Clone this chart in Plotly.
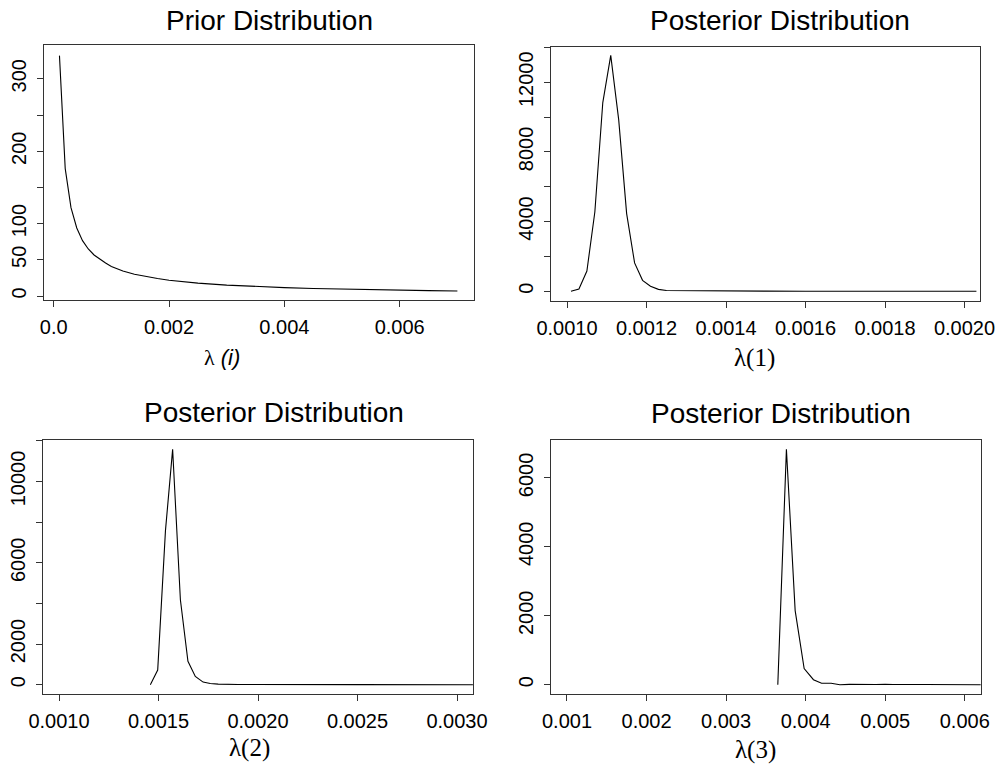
import plotly.graph_objects as go

# ---------------- data ----------------
prior_x = [0.0001, 0.0002, 0.0003, 0.0004, 0.0005, 0.0006, 0.0007, 0.0008, 0.0009, 0.0010,
           0.0012, 0.0014, 0.0016, 0.0018, 0.0020, 0.0025, 0.0030, 0.0035, 0.0040, 0.0045,
           0.0050, 0.0055, 0.0060, 0.0065, 0.0070]
prior_y = [332, 176, 122, 94, 76.5, 65, 56.7, 50.5, 45.5, 40.8,
           34.6, 30.1, 26.8, 24.1, 21.7, 17.8, 15.0, 13.1, 11.6, 10.4,
           9.5, 8.7, 8.0, 7.5, 7.0]

post1_x = [0.00101, 0.00103, 0.00105, 0.00107, 0.00109, 0.00111, 0.00113, 0.00115, 0.00117,
           0.00119, 0.00121, 0.00123, 0.00125, 0.00127, 0.00131, 0.00135, 0.00140, 0.00150,
           0.00160, 0.00180, 0.00203]
post1_y = [0, 130, 1160, 4550, 10830, 13540, 9850, 4460, 1630,
           630, 290, 110, 45, 40, 60, 45, 30, 10,
           5, 3, 0]

post2_x = [0.001459, 0.001496, 0.001535, 0.001571, 0.001610, 0.001648, 0.001685, 0.001724,
           0.00176, 0.00180, 0.00190, 0.00200, 0.00220, 0.00250, 0.00308]
post2_y = [0, 720, 7580, 11580, 4180, 1150, 410, 130,
           60, 30, 10, 5, 5, 2, 0]

post3_x = [0.00365, 0.003758, 0.003868, 0.003981, 0.004098, 0.00420, 0.00432, 0.00443,
           0.00455, 0.00466, 0.00477, 0.00488, 0.00500, 0.00510, 0.00550, 0.00620]
post3_y = [0, 6830, 2150, 470, 145, 40, 40, 0,
           10, 5, 20, 5, 15, 5, 5, 0]

titles = ["Prior Distribution", "Posterior Distribution", "Posterior Distribution", "Posterior Distribution"]

# tick definitions
p1_xt = [0.0, 0.002, 0.004, 0.006]
p1_xl = ["0.0", "0.002", "0.004", "0.006"]
p1_yt = [0, 50, 100, 150, 200, 250, 300]
p1_yl = ["0", "50", "100", "", "200", "", "300"]

p2_xt = [0.0010, 0.0012, 0.0014, 0.0016, 0.0018, 0.0020]
p2_xl = ["0.0010", "0.0012", "0.0014", "0.0016", "0.0018", "0.0020"]
p2_yt = [0, 2000, 4000, 6000, 8000, 10000, 12000, 14000]
p2_yl = ["0", "", "4000", "", "8000", "", "12000", ""]

p3_xt = [0.0010, 0.0015, 0.0020, 0.0025, 0.0030]
p3_xl = ["0.0010", "0.0015", "0.0020", "0.0025", "0.0030"]
p3_yt = [0, 2000, 4000, 6000, 8000, 10000, 12000]
p3_yl = ["0", "2000", "", "6000", "", "10000", ""]

p4_xt = [0.001, 0.002, 0.003, 0.004, 0.005, 0.006]
p4_xl = ["0.001", "0.002", "0.003", "0.004", "0.005", "0.006"]
p4_yt = [0, 2000, 4000, 6000]
p4_yl = ["0", "2000", "4000", "6000"]

W, H = 1007, 771

fig = go.Figure()
series = [(prior_x, prior_y), (post1_x, post1_y), (post2_x, post2_y), (post3_x, post3_y)]
for i, (xs, ys) in enumerate(series):
    sfx = "" if i == 0 else str(i + 1)
    fig.add_trace(go.Scatter(x=xs, y=ys, mode="lines",
                             line=dict(color="black", width=1.1),
                             xaxis="x" + sfx, yaxis="y" + sfx, showlegend=False,
                             hoverinfo="skip"))

# panel boxes in pixels: (left, right, top, bottom)
boxes = [(44, 474, 45, 300), (551, 980, 47, 301), (43, 473, 440, 694), (551, 981, 440, 694)]
xranges = [[-0.000168, 0.007288], [0.0009597, 0.002039], [0.0009196, 0.0030804], [0.000799, 0.006204]]
yranges = [[-5.5, 346.7], [-557, 14020], [-457, 12039], [-270, 7101]]
ticks = [(p1_xt, p1_xl, p1_yt, p1_yl), (p2_xt, p2_xl, p2_yt, p2_yl),
         (p3_xt, p3_xl, p3_yt, p3_yl), (p4_xt, p4_xl, p4_yt, p4_yl)]

font_sans = "Liberation Sans, Arial, sans-serif"
layout = dict(width=W, height=H, autosize=False,
              margin=dict(l=0, r=0, t=0, b=0, pad=0, autoexpand=False),
              paper_bgcolor="white", plot_bgcolor="white", showlegend=False)

for i in range(4):
    l, r, t, b = boxes[i]
    sfx = "" if i == 0 else str(i + 1)
    xt, xl, yt, yl = ticks[i]
    common = dict(showline=True, mirror=True, linecolor="#333333", linewidth=1,
                  ticks="outside", ticklen=6, tickwidth=1, tickcolor="#333333",
                  showgrid=False, zeroline=False, automargin=False,
                  tickfont=dict(family=font_sans, size=20, color="black"))
    layout["xaxis" + sfx] = dict(domain=[l / W, r / W], anchor="y" + sfx,
                                 range=xranges[i], tickvals=xt, ticktext=xl,
                                 ticklabelstandoff=3, **common)
    layout["yaxis" + sfx] = dict(domain=[1 - b / H, 1 - t / H], anchor="x" + sfx,
                                 range=yranges[i], tickvals=yt, ticktext=yl,
                                 tickangle=-90, ticklabelstandoff=3, **common)

# titles and axis labels (pixel positions measured on the reference)
title_pos = [(269.5, 20), (780, 20), (274.3, 412.5), (781.3, 413)]
anns = []
for (cx, cy), txt in zip(title_pos, titles):
    anns.append(dict(x=cx / W, y=1 - cy / H, xref="paper", yref="paper",
                     text=txt, showarrow=False, xanchor="center", yanchor="middle",
                     font=dict(family=font_sans, size=28, color="black")))

xlabels = [
    ("<span style='font-family:Liberation Serif'>λ</span> <i>(i)</i>", 221.7, 357, font_sans, 22),
    ("λ(1)", 754, 358, "Liberation Serif, Times New Roman, serif", 25),
    ("λ(2)", 249, 748, "Liberation Serif, Times New Roman, serif", 25),
    ("λ(3)", 755, 750, "Liberation Serif, Times New Roman, serif", 25),
]
for txt, cx, cy, fam, sz in xlabels:
    anns.append(dict(x=cx / W, y=1 - cy / H, xref="paper", yref="paper",
                     text=txt, showarrow=False, xanchor="center", yanchor="middle",
                     font=dict(family=fam, size=sz, color="black")))
layout["annotations"] = anns

fig.update_layout(**layout)
fig.write_html("out.html", config={"displayModeBar": False, "responsive": False},
               post_script="document.body.style.margin='0';")
